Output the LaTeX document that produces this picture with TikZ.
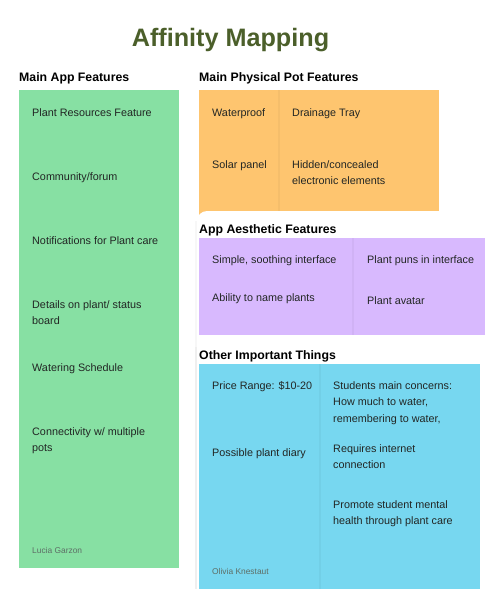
\documentclass[tikz,border=0pt]{standalone}
\usepackage{fontspec}
\setmainfont{Liberation Sans}

\definecolor{titlegreen}{HTML}{4B5F2A}
\definecolor{notegreen}{HTML}{87E0A3}
\definecolor{noteorange}{HTML}{FEC56F}
\definecolor{notepurple}{HTML}{D8B9FE}
\definecolor{noteblue}{HTML}{77D7F0}
\definecolor{inktext}{HTML}{222624}
\definecolor{authorgray}{HTML}{5E6E66}

\tikzset{
  board/.style={fill=white, rounded corners=10pt},
  boardedge/.style={line width=2pt, black, opacity=0.03, rounded corners=10pt},
  notes/.style={draw=none},
  seam/.style={line width=1.2pt, black, opacity=0.035},
  heading/.style={anchor=base west, inner sep=0pt, text=black, font=\fontsize{12.3}{15}\selectfont\bfseries},
  item/.style={anchor=base west, inner sep=0pt, text=inktext, align=left, font=\fontsize{10.8}{16.6}\selectfont},
  author/.style={anchor=base west, inner sep=0pt, text=authorgray, font=\fontsize{8.4}{10}\selectfont},
}

\begin{document}
\begin{tikzpicture}[x=1pt, y=-1pt]
\useasboundingbox (0,0) rectangle (500,589);
\fill[white] (0,0) rectangle (500,589);

% title
\node[anchor=base, inner sep=0pt, text=titlegreen, font=\fontsize{25.2}{30}\selectfont\bfseries] (title) at (230.5,46) {Affinity Mapping};

% ---- Main App Features (green column)
% multi-line items are placed by the baseline of their last line
\node[heading] (hApp) at (19,81) {Main App Features};
\fill[notegreen, notes] (19,90) rectangle (179,568);

\node[item] (g1) at (32,116) {Plant Resources Feature};
\node[item] (g2) at (32,180) {Community/forum};
\node[item] (g3) at (32,244) {Notifications for Plant care};
\node[item] (g4) at (32,324.6) {Details on plant/ status\\board};
\node[item] (g5) at (32,371) {Watering Schedule};
\node[item] (g6) at (32,451.6) {Connectivity w/ multiple\\pots};
\node[author] (gA) at (32,553) {Lucia Garzon};

% ---- Main Physical Pot Features (orange block)
\node[heading] (hPot) at (199,81) {Main Physical Pot Features};
\fill[noteorange, notes] (199,90) rectangle (439,220);
\draw[seam] (279,90) -- (279,220);

\node[item] (o1) at (212,116) {Waterproof};
\node[item] (o2) at (292,116) {Drainage Tray};
\node[item] (o3) at (212,168) {Solar panel};
\node[item] (o4) at (292,184.6) {Hidden/concealed\\electronic elements};

% ---- App Aesthetic Features (purple block on its own board)
\draw[boardedge] (196,620) -- (196,221);
\fill[board] (197,211) rectangle (520,620);
\node[heading] (hLook) at (199,233) {App Aesthetic Features};
\fill[notepurple, notes] (199,238) rectangle (485,335);
\draw[seam] (353,238) -- (353,335);

\node[item] (p1) at (212,263) {Simple, soothing interface};
\node[item] (p2) at (367,263) {Plant puns in interface};
\node[item] (p3) at (212,301) {Ability to name plants};
\node[item] (p4) at (367,304) {Plant avatar};

% ---- Other Important Things (blue block on its own board)
\draw[boardedge] (196,620) -- (196,347);
\fill[board] (197,337) rectangle (520,620);
\node[heading] (hOther) at (199,359) {Other Important Things};
\fill[noteblue, notes] (199,364) rectangle (480,600);
\draw[seam] (320,364) -- (320,600);

\node[item] (b1) at (212,389) {Price Range: \$10-20};
\node[item] (b2) at (333,422.2) {Students main concerns:\\How much to water,\\remembering to water,};
\node[item] (b3) at (212,456) {Possible plant diary};
\node[item] (b4) at (333,468.6) {Requires internet\\connection};
\node[item] (b5) at (333,524.6) {Promote student mental\\health through plant care};
\node[author] (bA) at (212,574) {Olivia Knestaut};
\end{tikzpicture}
\end{document}
